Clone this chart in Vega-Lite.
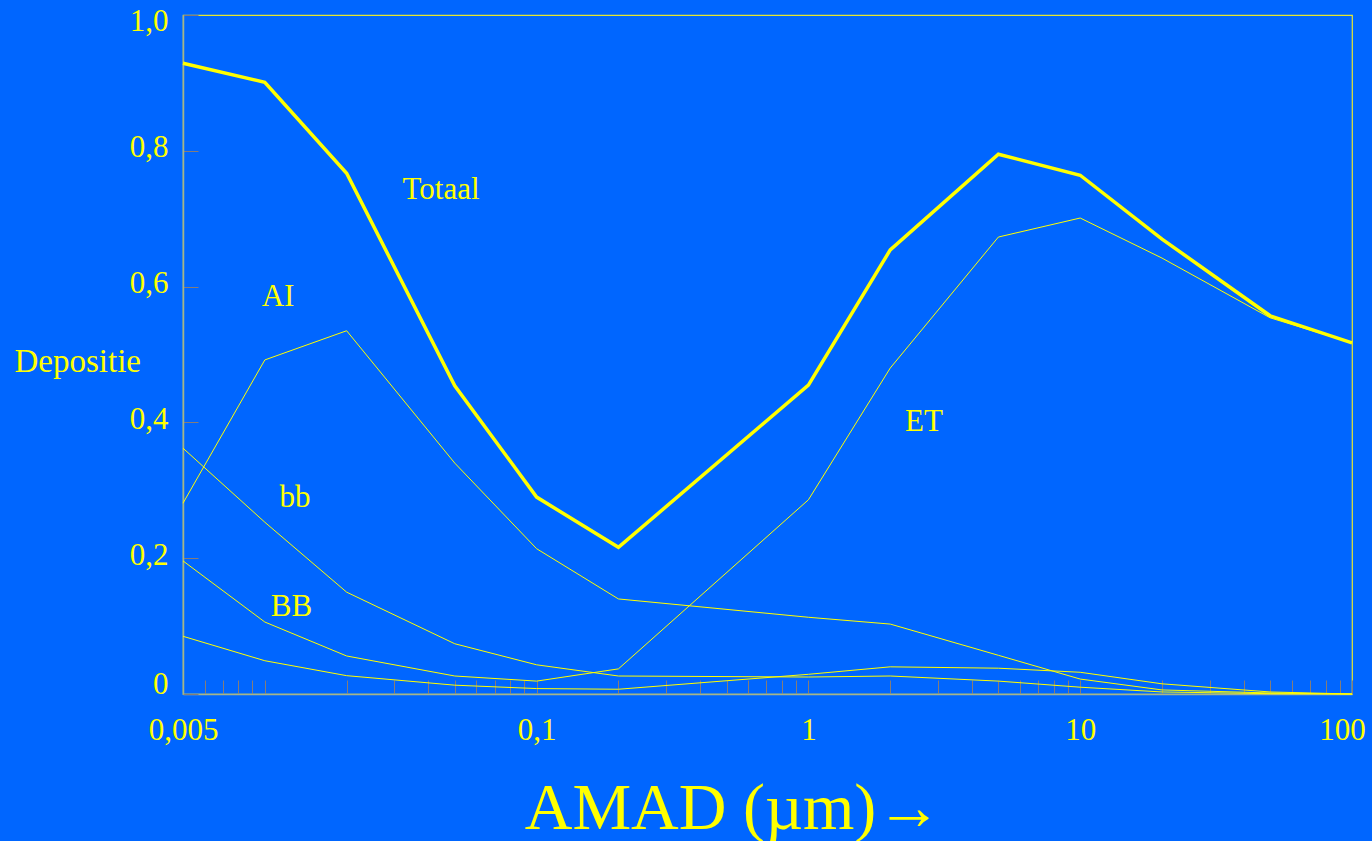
{
  "$schema": "https://vega.github.io/schema/vega-lite/v6.json",
  "width": 1169,
  "height": 679,
  "autosize": "none",
  "padding": {"left": 183, "top": 15, "right": 20, "bottom": 147},
  "background": "#0066ff",
  "config": {
    "view": {"stroke": "#e6e62e", "strokeWidth": 1.2},
    "font": "Liberation Serif"
  },
  "datasets": {
    "curves": [
      {"series": "Totaal", "size": 0.005, "value": 0.929},
      {"series": "Totaal", "size": 0.01, "value": 0.901},
      {"series": "Totaal", "size": 0.02, "value": 0.767},
      {"series": "Totaal", "size": 0.05, "value": 0.454},
      {"series": "Totaal", "size": 0.1, "value": 0.290},
      {"series": "Totaal", "size": 0.2, "value": 0.216},
      {"series": "Totaal", "size": 1, "value": 0.455},
      {"series": "Totaal", "size": 2, "value": 0.654},
      {"series": "Totaal", "size": 5, "value": 0.795},
      {"series": "Totaal", "size": 10, "value": 0.764},
      {"series": "Totaal", "size": 20, "value": 0.670},
      {"series": "Totaal", "size": 50, "value": 0.557},
      {"series": "Totaal", "size": 100, "value": 0.517},
      {"series": "AI", "size": 0.005, "value": 0.281},
      {"series": "AI", "size": 0.01, "value": 0.492},
      {"series": "AI", "size": 0.02, "value": 0.535},
      {"series": "AI", "size": 0.05, "value": 0.340},
      {"series": "AI", "size": 0.1, "value": 0.214},
      {"series": "AI", "size": 0.2, "value": 0.140},
      {"series": "AI", "size": 1, "value": 0.113},
      {"series": "AI", "size": 2, "value": 0.103},
      {"series": "AI", "size": 5, "value": 0.057},
      {"series": "AI", "size": 10, "value": 0.022},
      {"series": "AI", "size": 20, "value": 0.006},
      {"series": "AI", "size": 50, "value": 0.0015},
      {"series": "AI", "size": 100, "value": 0},
      {"series": "bb", "size": 0.005, "value": 0.362},
      {"series": "bb", "size": 0.01, "value": 0.253},
      {"series": "bb", "size": 0.02, "value": 0.150},
      {"series": "bb", "size": 0.05, "value": 0.074},
      {"series": "bb", "size": 0.1, "value": 0.043},
      {"series": "bb", "size": 0.2, "value": 0.0265},
      {"series": "bb", "size": 1, "value": 0.025},
      {"series": "bb", "size": 2, "value": 0.0265},
      {"series": "bb", "size": 5, "value": 0.019},
      {"series": "bb", "size": 10, "value": 0.010},
      {"series": "bb", "size": 20, "value": 0.003},
      {"series": "bb", "size": 50, "value": 0.0005},
      {"series": "bb", "size": 100, "value": 0},
      {"series": "BB", "size": 0.005, "value": 0.085},
      {"series": "BB", "size": 0.01, "value": 0.049},
      {"series": "BB", "size": 0.02, "value": 0.027},
      {"series": "BB", "size": 0.05, "value": 0.013},
      {"series": "BB", "size": 0.1, "value": 0.008},
      {"series": "BB", "size": 0.2, "value": 0.007},
      {"series": "BB", "size": 1, "value": 0.029},
      {"series": "BB", "size": 2, "value": 0.040},
      {"series": "BB", "size": 5, "value": 0.038},
      {"series": "BB", "size": 10, "value": 0.032},
      {"series": "BB", "size": 20, "value": 0.015},
      {"series": "BB", "size": 50, "value": 0.003},
      {"series": "BB", "size": 100, "value": 0},
      {"series": "ET", "size": 0.005, "value": 0.196},
      {"series": "ET", "size": 0.01, "value": 0.106},
      {"series": "ET", "size": 0.02, "value": 0.056},
      {"series": "ET", "size": 0.05, "value": 0.0265},
      {"series": "ET", "size": 0.1, "value": 0.019},
      {"series": "ET", "size": 0.2, "value": 0.037},
      {"series": "ET", "size": 1, "value": 0.286},
      {"series": "ET", "size": 2, "value": 0.480},
      {"series": "ET", "size": 5, "value": 0.673},
      {"series": "ET", "size": 10, "value": 0.701},
      {"series": "ET", "size": 20, "value": 0.642},
      {"series": "ET", "size": 50, "value": 0.554},
      {"series": "ET", "size": 100, "value": 0.517}
    ],
    "labels": [
      {"label": "Totaal", "x": 0.0445, "y": 0.729},
      {"label": "AI", "x": 0.01118, "y": 0.571},
      {"label": "bb", "x": 0.0129, "y": 0.275},
      {"label": "BB", "x": 0.01254, "y": 0.115},
      {"label": "ET", "x": 2.663, "y": 0.387}
    ]
  },
  "encoding": {
    "x": {
      "field": "size",
      "type": "quantitative",
      "scale": {"type": "log", "domain": [0.005, 100], "nice": false},
      "axis": {
        "title": "AMAD (µm)→",
        "titleFont": "Liberation Serif",
        "titleFontSize": 66,
        "titleFontWeight": "normal",
        "titleColor": "#ffff00",
        "titleX": 550,
        "titleY": 134,
        "titleAlign": "center",
        "titleBaseline": "alphabetic",
        "grid": false,
        "values": [0.005, 0.006, 0.007, 0.008, 0.009, 0.01, 0.02, 0.03, 0.04, 0.05, 0.06, 0.07, 0.08, 0.09, 0.1, 0.2, 0.3, 0.4, 0.5, 0.6, 0.7, 0.8, 0.9, 1, 2, 3, 4, 5, 6, 7, 8, 9, 10, 20, 30, 40, 50, 60, 70, 80, 90, 100],
        "labelExpr": "indexof([0.005, 0.1, 1, 10, 100], datum.value) >= 0 ? replace(toString(datum.value), '.', ',') : ''",
        "labelFont": "Liberation Serif",
        "labelFontSize": 31,
        "labelColor": "#ffff00",
        "labelPadding": 35,
        "labelOverlap": false,
        "labelBound": false,
        "labelFlush": false,
        "labelOffset": {"condition": {"test": "datum.value == 100", "value": -10}, "value": 0},
        "tickSize": -14,
        "tickColor": "#857d78",
        "tickWidth": 1,
        "domainColor": "#a4b48c",
        "domainWidth": 1.5,
        "encode": {
          "ticks": {"update": {"y2": {"signal": "abs(log(datum.value)/LN10 - round(log(datum.value)/LN10)) < 0.001 ? -14 : -8"}}}
        }
      }
    },
    "y": {
      "field": "value",
      "type": "quantitative",
      "scale": {"domain": [0, 1], "nice": false, "zero": false},
      "axis": {
        "title": "Depositie",
        "titleFont": "Liberation Serif",
        "titleFontSize": 33,
        "titleFontWeight": "normal",
        "titleColor": "#ffff00",
        "titleAngle": 0,
        "titleX": -169,
        "titleY": 356,
        "titleAlign": "left",
        "titleBaseline": "alphabetic",
        "grid": false,
        "values": [0, 0.2, 0.4, 0.6, 0.8, 1],
        "labelExpr": "datum.value == 0 ? '0' : replace(format(datum.value, '.1f'), '.', ',')",
        "labelFont": "Liberation Serif",
        "labelFontSize": 31,
        "labelColor": "#ffff00",
        "labelPadding": 30,
        "labelBaseline": "middle",
        "labelOverlap": false,
        "labelBound": false,
        "labelFlush": false,
        "labelOffset": {"condition": [{"test": "datum.value == 1", "value": 6}, {"test": "datum.value == 0", "value": -10}], "value": -3},
        "tickSize": -15,
        "tickColor": "#857d78",
        "tickWidth": 1,
        "domainColor": "#a4b48c",
        "domainWidth": 1.5
      }
    }
  },
  "layer": [
    {
      "data": {"name": "curves"},
      "transform": [{"filter": "datum.series != 'Totaal'"}],
      "mark": {"type": "line", "color": "#ffff00", "strokeWidth": 1, "strokeJoin": "miter"},
      "encoding": {
        "detail": {"field": "series"}
      }
    },
    {
      "data": {"name": "curves"},
      "transform": [{"filter": "datum.series == 'Totaal'"}],
      "mark": {"type": "line", "color": "#ffff00", "strokeWidth": 3.5, "strokeJoin": "miter"},
      "encoding": {
        "detail": {"field": "series"}
      }
    },
    {
      "data": {"name": "labels"},
      "mark": {"type": "text", "color": "#ffff00", "font": "Liberation Serif", "fontSize": 31, "baseline": "alphabetic", "align": "center"},
      "encoding": {
        "x": {"field": "x", "type": "quantitative"},
        "y": {"field": "y", "type": "quantitative"},
        "text": {"field": "label"}
      }
    }
  ]
}
